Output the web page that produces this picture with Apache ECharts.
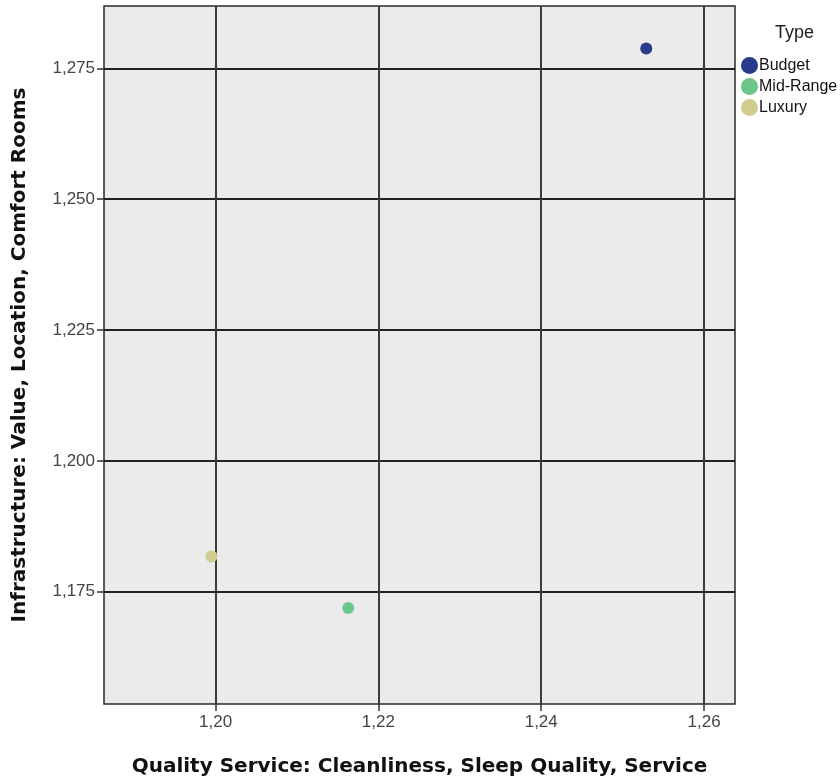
<!DOCTYPE html>
<html>
<head>
<meta charset="utf-8">
<script src="https://cdn.jsdelivr.net/npm/echarts@6/dist/echarts.min.js"></script>
<style>html,body{margin:0;padding:0;background:#fff;}#c{width:840px;height:779px;}</style>
</head>
<body>
<div id="c"></div>
<script>
const types = ['Budget', 'Mid-Range', 'Luxury'];
const qualityService = [1.2529, 1.2163, 1.1995];
const infrastructure = [1.2788, 1.1719, 1.1817];
const colors = ['#283a8c', '#6bc68a', '#d0cd8e'];
const xTicks = [1.20, 1.22, 1.24, 1.26];
const yTicks = [1.175, 1.200, 1.225, 1.250, 1.275];
const xRange = [1.1863, 1.2638];
const yRange = [1.15354, 1.2869];

const chart = echarts.init(document.getElementById('c'));
const fmt = (d) => (v) => v.toFixed(d).replace('.', ',');
const font = 'Liberation Sans, Arial, sans-serif';
const titleFont = 'DejaVu Sans, sans-serif';

chart.setOption({
  animation: false,
  backgroundColor: '#ffffff',
  title: {
    text: 'Type', left: 770, top: 19,
    textStyle: { fontFamily: font, fontSize: 18, fontWeight: 'normal', color: '#222' }
  },
  legend: {
    orient: 'vertical', left: 736, top: 52,
    icon: 'circle', itemWidth: 17, itemHeight: 17, itemGap: 4,
    textStyle: { fontFamily: font, fontSize: 16, color: '#111', padding: [0, 0, 0, -4] },
    data: types
  },
  grid: {
    left: 104, right: 105, top: 6, bottom: 75,
    outerBoundsMode: 'none', containLabel: false,
    show: true, backgroundColor: '#ebebeb', borderColor: '#2a2a2a', borderWidth: 1.5
  },
  xAxis: {
    type: 'value', min: xRange[0], max: xRange[1],
    name: 'Quality Service: Cleanliness, Sleep Quality, Service',
    nameLocation: 'middle', nameGap: 53,
    nameTextStyle: { fontFamily: titleFont, fontSize: 20, fontWeight: 'bold', color: '#111' },
    axisLine: { show: false },
    axisTick: { show: true, length: 7, customValues: xTicks, lineStyle: { color: '#333', width: 1.5 } },
    axisLabel: { customValues: xTicks, formatter: fmt(2), fontFamily: font, fontSize: 17, color: '#444', margin: 10 },
    splitLine: { show: true, lineStyle: { color: '#3a3a3a', width: 2 } }
  },
  yAxis: {
    type: 'value', min: yRange[0], max: yRange[1],
    name: 'Infrastructure: Value, Location, Comfort Rooms',
    nameLocation: 'middle', nameGap: 74,
    nameTextStyle: { fontFamily: titleFont, fontSize: 20, fontWeight: 'bold', color: '#111' },
    axisLine: { show: false },
    axisTick: { show: true, length: 7, customValues: yTicks, lineStyle: { color: '#333', width: 1.5 } },
    axisLabel: { customValues: yTicks, formatter: fmt(3), fontFamily: font, fontSize: 17, color: '#444', margin: 9 },
    splitLine: { show: true, lineStyle: { color: '#222', width: 2 } }
  },
  series: types.map((t, i) => ({
    name: t, type: 'scatter', symbol: 'circle', symbolSize: 12,
    itemStyle: { color: colors[i], opacity: 1 },
    data: [[qualityService[i], infrastructure[i]]]
  }))
});
</script>
</body>
</html>
